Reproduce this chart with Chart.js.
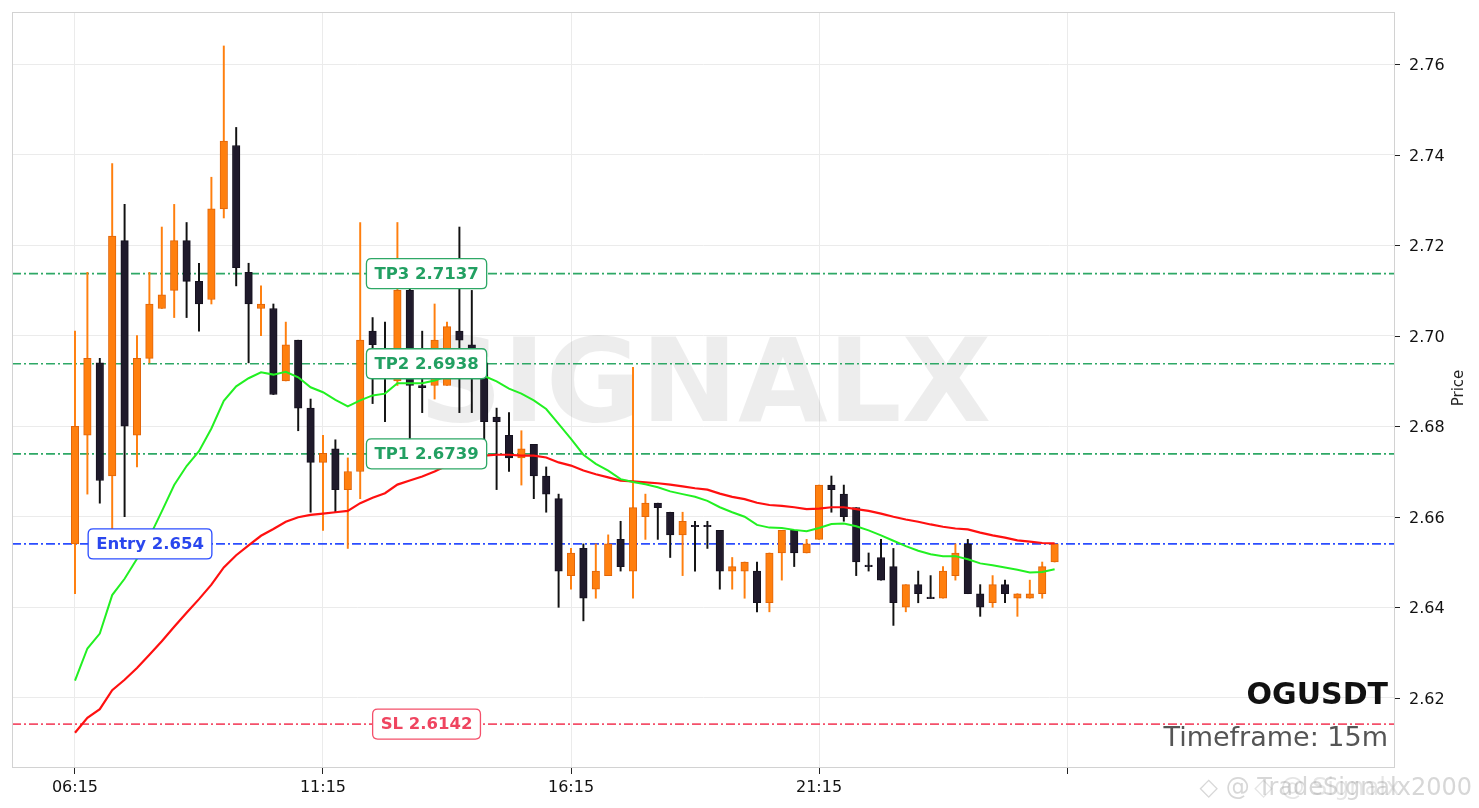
<!DOCTYPE html>
<html><head><meta charset="utf-8">
<script src="https://cdn.jsdelivr.net/npm/chart.js@4.4.0/dist/chart.umd.min.js"></script>
<style>html,body{margin:0;padding:0;background:#fff;}canvas{display:block}</style>
</head><body>
<canvas id="c" width="1479" height="808"></canvas>
<script>
// ---- data ----
const timeLabels = ['06:15','11:15','16:15','21:15',''];
const timeTickIndex = [0,20,40,60,80];
const priceTicks = [2.62,2.64,2.66,2.68,2.70,2.72,2.74,2.76];

const opens  = [2.654,2.678,2.694,2.669,2.721,2.678,2.695,2.706,2.710,2.721,
                2.712,2.708,2.728,2.742,2.714,2.706,2.706,2.690,2.699,2.684,
                2.672,2.675,2.666,2.670,2.701,2.692,2.690,2.710,2.689,2.689,
                2.689,2.701,2.698,2.694,2.682,2.678,2.673,2.676,2.669,2.664,
                2.647,2.653,2.644,2.647,2.655,2.648,2.660,2.663,2.661,2.656,
                2.658,2.658,2.657,2.648,2.648,2.648,2.641,2.652,2.657,2.652,
                2.655,2.667,2.665,2.662,2.6492,2.651,2.649,2.640,2.645,2.642,
                2.642,2.647,2.654,2.643,2.641,2.645,2.642,2.642,2.643,2.650];
const highs  = [2.701,2.714,2.695,2.738,2.729,2.700,2.714,2.724,2.729,2.725,
                2.716,2.735,2.764,2.746,2.716,2.711,2.707,2.703,2.699,2.686,
                2.678,2.677,2.673,2.725,2.704,2.703,2.725,2.711,2.701,2.707,
                2.703,2.724,2.710,2.694,2.684,2.683,2.679,2.676,2.671,2.665,
                2.653,2.654,2.654,2.656,2.659,2.693,2.665,2.663,2.661,2.661,
                2.659,2.659,2.657,2.651,2.650,2.650,2.652,2.657,2.657,2.655,
                2.667,2.669,2.667,2.662,2.652,2.655,2.653,2.645,2.648,2.647,
                2.649,2.654,2.655,2.645,2.647,2.646,2.643,2.646,2.650,2.654];
const lows   = [2.643,2.665,2.663,2.657,2.660,2.671,2.694,2.706,2.704,2.704,
                2.701,2.707,2.726,2.711,2.694,2.700,2.687,2.690,2.679,2.661,
                2.657,2.661,2.653,2.664,2.685,2.681,2.689,2.672,2.683,2.686,
                2.689,2.683,2.683,2.674,2.666,2.670,2.667,2.664,2.661,2.640,
                2.644,2.637,2.642,2.647,2.648,2.642,2.655,2.655,2.651,2.647,
                2.648,2.653,2.644,2.644,2.642,2.639,2.639,2.646,2.649,2.652,
                2.655,2.661,2.659,2.647,2.648,2.646,2.636,2.639,2.641,2.642,
                2.642,2.646,2.643,2.638,2.640,2.641,2.638,2.642,2.642,2.650];
const closes = [2.680,2.695,2.668,2.722,2.680,2.695,2.707,2.709,2.721,2.712,
                2.707,2.728,2.743,2.715,2.707,2.707,2.687,2.698,2.684,2.672,
                2.674,2.666,2.670,2.699,2.698,2.691,2.710,2.689,2.6885,2.699,
                2.702,2.699,2.697,2.681,2.681,2.673,2.675,2.669,2.665,2.648,
                2.652,2.642,2.648,2.654,2.649,2.662,2.663,2.662,2.656,2.659,
                2.6578,2.6578,2.648,2.649,2.650,2.641,2.652,2.657,2.652,2.654,
                2.667,2.666,2.660,2.650,2.649,2.646,2.641,2.645,2.643,2.6419,
                2.648,2.652,2.643,2.640,2.645,2.643,2.643,2.643,2.649,2.654];
const emaFast = [2.6238,2.6309,2.6342,2.6427,2.6463,2.6507,2.6555,2.6612,2.6670,2.6712,
                 2.6745,2.6795,2.6856,2.6888,2.6906,2.6919,2.6914,2.6920,2.6908,2.6886,
                 2.6875,2.6858,2.6844,2.6857,2.6868,2.6872,2.6895,2.6895,2.6895,2.6901,
                 2.6910,2.6916,2.6920,2.6911,2.6899,2.6883,2.6872,2.6857,2.6838,2.6805,
                 2.6772,2.6737,2.6717,2.6702,2.6683,2.6677,2.6672,2.6665,2.6656,2.6650,
                 2.6644,2.6635,2.6621,2.6610,2.6600,2.6582,2.6576,2.6575,2.6571,2.6568,
                 2.6575,2.6584,2.6585,2.6579,2.6570,2.6559,2.6547,2.6535,2.6525,2.6517,
                 2.6513,2.6513,2.6506,2.6497,2.6493,2.6488,2.6483,2.6477,2.6478,2.6484];
const emaSlow = [2.6123,2.6156,2.6175,2.6217,2.6240,2.6266,2.6295,2.6325,2.6357,2.6388,
                 2.6418,2.6450,2.6488,2.6515,2.6537,2.6558,2.6573,2.6589,2.6599,2.6604,
                 2.6607,2.6610,2.6613,2.6630,2.6642,2.6652,2.6671,2.6680,2.6689,2.6700,
                 2.6713,2.6722,2.6730,2.6735,2.6737,2.6737,2.6735,2.6735,2.6731,2.6720,
                 2.6713,2.6702,2.6694,2.6687,2.6680,2.6678,2.6676,2.6674,2.6671,2.6667,
                 2.6663,2.6660,2.6651,2.6644,2.6639,2.6631,2.6626,2.6624,2.6621,2.6617,
                 2.6618,2.6621,2.6621,2.6617,2.6613,2.6607,2.6600,2.6594,2.6589,2.6583,
                 2.6578,2.6574,2.6572,2.6565,2.6559,2.6554,2.6548,2.6545,2.6542,2.6541];
const levelNames  = ['TP3','TP2','TP1','Entry','SL'];
const levelValues = [2.7137,2.6938,2.6739,2.654,2.6142];
const symbolName = 'OGUSDT';
const timeframeText = 'Timeframe: 15m';
const axisTitle = 'Price';

// ---- styles ----
const X_MIN = -5.08, X_MAX = 106.45, Y_MIN = 2.6045, Y_MAX = 2.7715;
const levelColor = {TP3:'#2ea866',TP2:'#2ea866',TP1:'#2ea866',Entry:'#2b4dff',SL:'#f4506a'};
const levelText  = {TP3:'#22a062',TP2:'#22a062',TP1:'#22a062',Entry:'#2a47ee',SL:'#ef4560'};
const levelLabelX = {TP3:28.35,TP2:28.35,TP1:28.35,Entry:6.05,SL:28.35};
const UP='#ff7f0e', UP_EDGE='#e0650a', DN='#1f1a2b', DN_EDGE='#15111e';

const isUp = opens.map((o,i)=>closes[i]>=o);
const datasets = [];
levelNames.forEach((n,k)=>{
  datasets.push({type:'line', data:[{x:X_MIN,y:levelValues[k]},{x:X_MAX,y:levelValues[k]}],
    borderColor:levelColor[n], borderWidth:1.6, borderDash:[9,3,2,3], pointRadius:0, order:5});
});
datasets.push({type:'bar', grouped:false, order:3, barThickness:1.3,
  data: opens.map((o,i)=>({x:i,y:[lows[i],highs[i]]})),
  backgroundColor: isUp.map(u=>u?UP:'#111111'), borderWidth:0});
datasets.push({type:'bar', grouped:false, order:2, barThickness:7.5, minBarLength:1.5,
  data: opens.map((o,i)=>({x:i,y:[o,closes[i]]})),
  backgroundColor: isUp.map(u=>u?UP:DN), borderColor: isUp.map(u=>u?UP_EDGE:DN_EDGE),
  borderWidth:1, borderSkipped:false});
datasets.push({type:'line', order:1, data: emaSlow.map((v,i)=>({x:i,y:v})),
  borderColor:'#ff1010', borderWidth:2.2, pointRadius:0, tension:0});
datasets.push({type:'line', order:0, data: emaFast.map((v,i)=>({x:i,y:v})),
  borderColor:'#22f022', borderWidth:2, pointRadius:0, tension:0});

function roundRect(ctx,x,y,w,h,r){
  ctx.beginPath();ctx.moveTo(x+r,y);ctx.lineTo(x+w-r,y);ctx.quadraticCurveTo(x+w,y,x+w,y+r);
  ctx.lineTo(x+w,y+h-r);ctx.quadraticCurveTo(x+w,y+h,x+w-r,y+h);ctx.lineTo(x+r,y+h);
  ctx.quadraticCurveTo(x,y+h,x,y+h-r);ctx.lineTo(x,y+r);ctx.quadraticCurveTo(x,y,x+r,y);ctx.closePath();
}

const decor = {
  id:'decor',
  beforeDatasetsDraw(chart){
    const ctx=chart.ctx;
    ctx.save();
    ctx.font='bold 116px "DejaVu Sans"';
    ctx.fillStyle='rgba(0,0,0,0.07)';
    ctx.textAlign='center';ctx.textBaseline='alphabetic';
    ctx.fillText('SIGNALX', 705, 421);
    ctx.restore();
  },
  afterDatasetsDraw(chart){
    const ctx=chart.ctx, ca=chart.chartArea, xs=chart.scales.x, ys=chart.scales.y;
    ctx.save();
    ctx.font='bold 16.5px "DejaVu Sans"';
    ctx.textAlign='center';ctx.textBaseline='middle';
    levelNames.forEach((n,k)=>{
      const txt=n+' '+levelValues[k];
      const w=ctx.measureText(txt).width+16, h=30;
      const cx=xs.getPixelForValue(levelLabelX[n]), cy=ys.getPixelForValue(levelValues[k]);
      roundRect(ctx,cx-w/2,cy-h/2,w,h,5);
      ctx.fillStyle='#ffffff';ctx.fill();
      ctx.lineWidth=1.3;ctx.strokeStyle=levelColor[n];ctx.stroke();
      ctx.fillStyle=levelText[n];ctx.fillText(txt,cx,cy+1);
    });
    ctx.strokeStyle='#d2d2d2';ctx.lineWidth=1;
    ctx.strokeRect(Math.round(ca.left)+0.5,Math.round(ca.top)+0.5,Math.round(ca.width)-1,Math.round(ca.height)-1);
    ctx.textAlign='right';ctx.textBaseline='alphabetic';
    ctx.fillStyle='#111';ctx.font='bold 30px "DejaVu Sans"';
    ctx.fillText(symbolName, ca.right-7, 704);
    ctx.fillStyle='#555';ctx.font='27px "DejaVu Sans"';
    ctx.fillText(timeframeText, ca.right-7, 746);
    ctx.restore();
  },
  afterDraw(chart){
    const ctx=chart.ctx, ca=chart.chartArea, ys=chart.scales.y;
    ctx.save();
    ctx.strokeStyle='#222';ctx.lineWidth=1;ctx.fillStyle='#111';
    ctx.font='16px "DejaVu Sans"';ctx.textAlign='left';ctx.textBaseline='middle';
    ys.ticks.forEach(t=>{
      const y=Math.round(ys.getPixelForValue(t.value))+0.5;
      ctx.beginPath();ctx.moveTo(ca.right,y);ctx.lineTo(ca.right+5,y);ctx.stroke();
      ctx.fillText(Number(t.value).toFixed(2), ca.right+14, y+1);
    });
    ctx.translate(1459,388);ctx.rotate(-Math.PI/2);
    ctx.font='15px "DejaVu Sans"';ctx.fillStyle='#222';ctx.textAlign='center';ctx.textBaseline='middle';
    ctx.fillText(axisTitle,0,0);
    ctx.restore();
    ctx.save();
    ctx.font='24px "DejaVu Sans"';ctx.textAlign='right';ctx.textBaseline='alphabetic';
    ctx.fillStyle='rgba(150,150,150,0.38)';
    ctx.fillText('◇ @ TradeSignalx2000',1472,795);
    ctx.fillStyle='rgba(150,150,150,0.25)';
    ctx.fillText('◇ @ Signalx',1400,795);
    ctx.restore();
  }
};

new Chart(document.getElementById('c').getContext('2d'), {
  type:'bar',
  data:{datasets},
  plugins:[decor],
  options:{
    responsive:false, animation:false, devicePixelRatio:1,
    layout:{padding:{left:12,top:12,right:0,bottom:0}},
    plugins:{legend:{display:false},tooltip:{enabled:false}},
    scales:{
      x:{type:'linear',position:'bottom',min:X_MIN,max:X_MAX,offset:false,
        afterBuildTicks:s=>{s.ticks=timeTickIndex.map(v=>({value:v}));},
        afterFit:s=>{s.height=40;s.paddingLeft=0;s.paddingRight=0;},
        ticks:{autoSkip:false,maxRotation:0,padding:4,color:'#111',
          font:{family:'DejaVu Sans',size:16},
          callback:(v)=>{const k=timeTickIndex.indexOf(v);return k>=0?timeLabels[k]:'';}},
        grid:{color:'#ebebeb',tickColor:'#222',tickLength:6,offset:false},
        border:{display:false}},
      y:{position:'right',min:Y_MIN,max:Y_MAX,
        afterBuildTicks:s=>{s.ticks=priceTicks.map(v=>({value:v}));},
        afterFit:s=>{s.width=84;s.paddingTop=0;s.paddingBottom=0;},
        ticks:{display:false},
        grid:{color:'#ebebeb',drawTicks:false,offset:false},
        border:{display:false}}
    }
  }
});
</script>
</body></html>
